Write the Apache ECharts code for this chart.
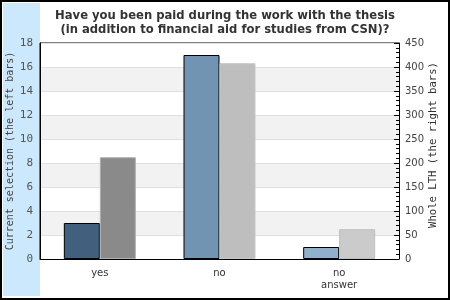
<!DOCTYPE html>
<html><head><meta charset="utf-8">
<script src="https://cdn.jsdelivr.net/npm/echarts@6/dist/echarts.min.js"></script>
<style>html,body{margin:0;padding:0;background:#fff}#c{width:450px;height:300px}</style>
</head><body><div id="c"></div>
<script>
const categories = ['yes', 'no', 'no\nanswer'];
const currentSelection = [3, 17, 1];
const wholeLTH = [212, 408, 62];
const leftColors = ['#40607e', '#7094b2', '#90b0cc'];
const rightColors = ['#8a8a8a', '#bebebe', '#cbcbcb'];
const rightBorders = ['#b0b0b0', '#c8c8c8', '#bdbdbd'];
const titleText = 'Have you been paid during the work with the thesis\n(in addition to financial aid for studies from CSN)?';
const leftName = 'Current selection (the left bars)';
const rightName = 'Whole LTH (the right bars)';

const chart = echarts.init(document.getElementById('c'), null, {renderer: 'canvas'});
chart.setOption({
  animation: false,
  backgroundColor: '#fff',
  graphic: [
    {type: 'rect', shape: {x: 1, y: 1, width: 448, height: 298}, style: {fill: 'none', stroke: '#000', lineWidth: 2}, z: 100},
    {type: 'rect', shape: {x: 3, y: 3, width: 37, height: 293}, style: {fill: '#cce8fc'}, z: -10}
  ],
  title: {
    text: titleText, left: 'center', top: 4,
    textStyle: {fontFamily: 'DejaVu Sans', fontWeight: 'bold', fontSize: 11.6, color: '#333', lineHeight: 14}
  },
  grid: {left: 40, right: 51, top: 43, bottom: 41, show: true, borderColor: '#000', borderWidth: 1, backgroundColor: 'transparent', outerBoundsMode: 'none', containLabel: false},
  xAxis: {
    type: 'category', data: categories,
    axisLine: {lineStyle: {color: '#000'}}, axisTick: {show: false},
    axisLabel: {fontFamily: 'DejaVu Sans', fontSize: 10, color: '#333', margin: 8, lineHeight: 12}
  },
  yAxis: [
    {
      type: 'value', min: 0, max: 18, interval: 2, position: 'left',
      name: leftName, nameLocation: 'middle', nameGap: 25, nameMoveOverlap: false,
      nameTextStyle: {fontFamily: 'DejaVu Sans Mono', fontSize: 10, color: '#444'},
      axisLine: {show: true, lineStyle: {color: '#000'}}, axisTick: {show: false},
      axisLabel: {fontFamily: 'DejaVu Sans Mono', fontSize: 11, color: '#555', margin: 7},
      splitLine: {show: true, lineStyle: {color: '#e0e0e0'}},
      splitArea: {show: true, areaStyle: {color: ['#ffffff', '#f2f2f2']}}
    },
    {
      type: 'value', min: 0, max: 450, interval: 50, position: 'right',
      name: rightName, nameLocation: 'middle', nameGap: 29, nameMoveOverlap: false,
      nameTextStyle: {fontFamily: 'DejaVu Sans Mono', fontSize: 10.6, color: '#333', padding: [0, 0, 0, 12]},
      axisLine: {show: true, lineStyle: {color: '#000'}},
      axisTick: {show: true, inside: true, length: 5, lineStyle: {color: '#000'}},
      minorTick: {show: true, splitNumber: 5, length: 3, lineStyle: {color: '#000'}},
      axisLabel: {fontFamily: 'DejaVu Sans', fontSize: 10, color: '#444', margin: 6},
      splitLine: {show: false}
    }
  ],
  series: [
    {
      type: 'bar', yAxisIndex: 0, barWidth: 36, barGap: 0,
      data: currentSelection.map((v, i) => ({value: v, itemStyle: {color: leftColors[i], borderColor: '#000', borderWidth: 1}}))
    },
    {
      type: 'bar', yAxisIndex: 1, barWidth: 36, barGap: 0,
      data: wholeLTH.map((v, i) => ({value: v, itemStyle: {color: rightColors[i], borderColor: rightBorders[i], borderWidth: 1}}))
    }
  ]
});
</script></body></html>
